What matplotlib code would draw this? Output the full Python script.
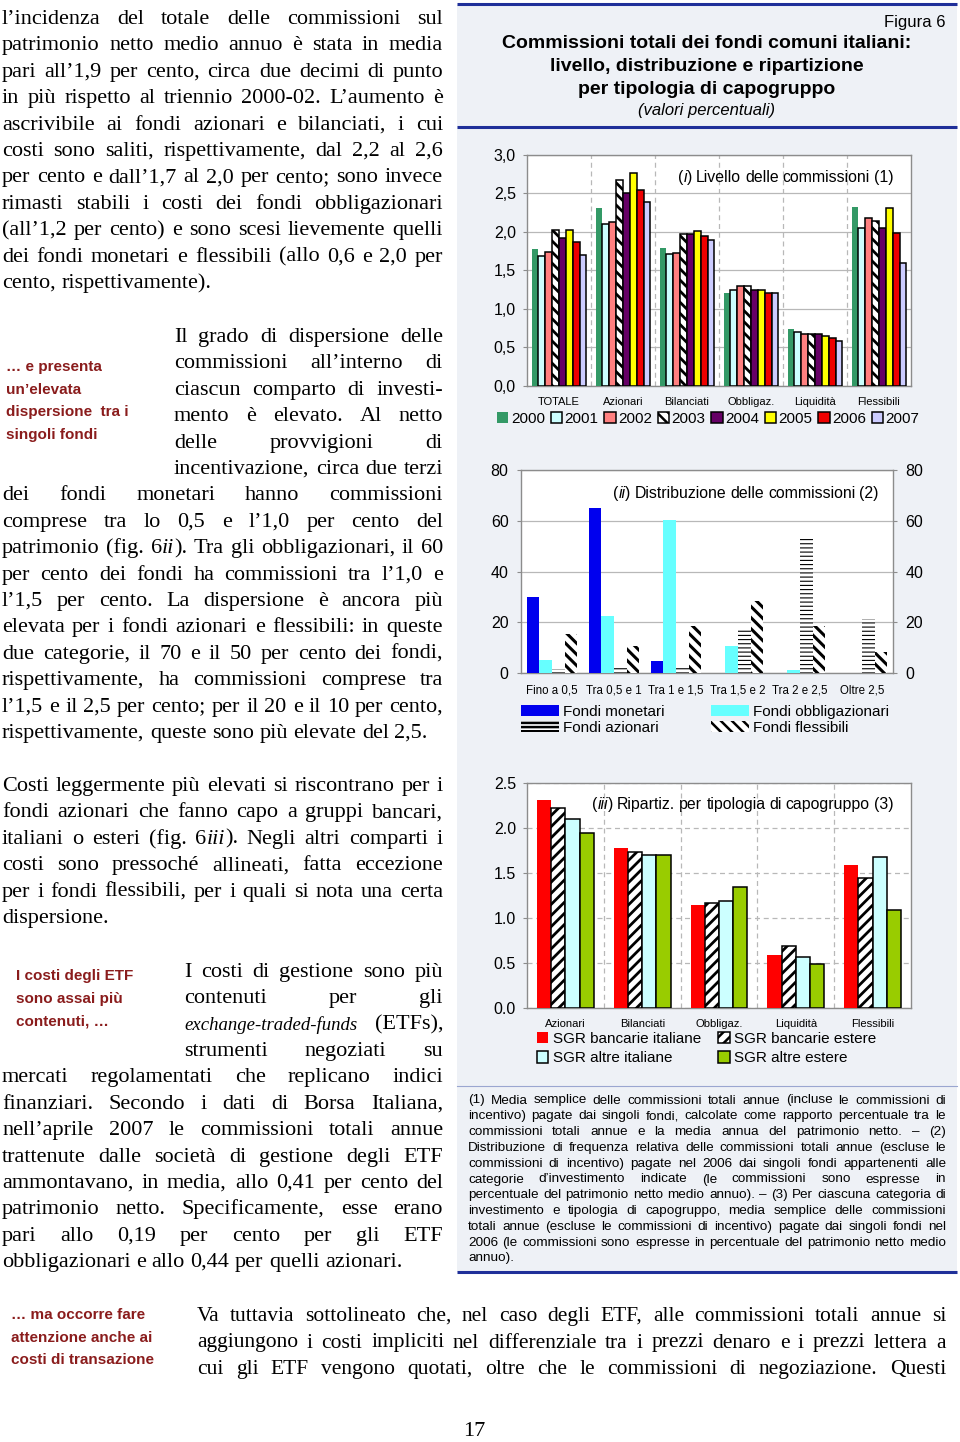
import matplotlib
matplotlib.use('Agg')
import matplotlib.pyplot as plt
import numpy as np
from matplotlib.font_manager import FontProperties, fontManager
from matplotlib.patches import Rectangle

# ---- data -------------------------------------------------------------
years = ['2000', '2001', '2002', '2003', '2004', '2005', '2006', '2007']
cat1 = ['TOTALE', 'Azionari', 'Bilanciati', 'Obbligaz.', 'Liquidità', 'Flessibili']
v2000 = [1.78, 2.31, 1.79, 1.20, 0.74, 2.32]
v2001 = [1.69, 2.10, 1.71, 1.24, 0.69, 2.05]
v2002 = [1.74, 2.13, 1.73, 1.29, 0.67, 2.18]
v2003 = [2.02, 2.67, 1.97, 1.30, 0.67, 2.14]
v2004 = [1.92, 2.51, 1.97, 1.24, 0.67, 2.05]
v2005 = [2.02, 2.76, 2.01, 1.24, 0.64, 2.31]
v2006 = [1.87, 2.54, 1.94, 1.21, 0.62, 1.98]
v2007 = [1.70, 2.39, 1.89, 1.20, 0.58, 1.59]
ticks1 = [0, 0.5, 1.0, 1.5, 2.0, 2.5, 3.0]
ticklabels1 = ['0,0', '0,5', '1,0', '1,5', '2,0', '2,5', '3,0']

bins2 = ['Fino a 0,5', 'Tra 0,5 e 1', 'Tra 1 e 1,5', 'Tra 1,5 e 2', 'Tra 2 e 2,5', 'Oltre 2,5']
monetari = [29.8, 64.9, 4.9, 0, 0, 0]
obbligazionari = [5.0, 22.3, 60.1, 10.6, 1.2, 0]
azionari = [1.6, 2.4, 2.9, 17.3, 54.0, 21.2]
flessibili = [15.3, 10.5, 18.6, 28.2, 18.6, 8.1]
names2 = ['Fondi monetari', 'Fondi obbligazionari', 'Fondi azionari', 'Fondi flessibili']
ticks2 = [0, 20, 40, 60, 80]

cat3 = ['Azionari', 'Bilanciati', 'Obbligaz.', 'Liquidità', 'Flessibili']
bancarie_italiane = [2.31, 1.78, 1.15, 0.59, 1.59]
bancarie_estere = [2.22, 1.73, 1.17, 0.69, 1.44]
altre_italiane = [2.10, 1.70, 1.19, 0.57, 1.68]
altre_estere = [1.94, 1.70, 1.35, 0.49, 1.09]
names3 = ['SGR bancarie italiane', 'SGR bancarie estere', 'SGR altre italiane', 'SGR altre estere']
ticks3 = [0, 0.5, 1.0, 1.5, 2.0, 2.5]
ticklabels3 = ['0.0', '0.5', '1.0', '1.5', '2.0', '2.5']

# ---- page text ----------------------------------------------------------
para1 = [
    "l’incidenza del totale delle commissioni sul",
    "patrimonio netto medio annuo è stata in media",
    "pari all’1,9 per cento, circa due decimi di punto",
    "in più rispetto al triennio 2000-02. L’aumento è",
    "ascrivibile ai fondi azionari e bilanciati, i cui",
    "costi sono saliti, rispettivamente, dal 2,2 al 2,6",
    "per cento e dall’1,7 al 2,0 per cento; sono invece",
    "rimasti stabili i costi dei fondi obbligazionari",
    "(all’1,2 per cento) e sono scesi lievemente quelli",
    "dei fondi monetari e flessibili (allo 0,6 e 2,0 per",
    "cento, rispettivamente).",
]
para2 = [
    "Il grado di dispersione delle",
    "commissioni all’interno di",
    "ciascun comparto di investi-",
    "mento è elevato. Al netto",
    "delle provvigioni di",
    "incentivazione, circa due terzi",
    "dei fondi monetari hanno commissioni",
    "comprese tra lo 0,5 e l’1,0 per cento del",
    "patrimonio (fig. 6*ii*). Tra gli obbligazionari, il 60",
    "per cento dei fondi ha commissioni tra l’1,0 e",
    "l’1,5 per cento. La dispersione è ancora più",
    "elevata per i fondi azionari e flessibili: in queste",
    "due categorie, il 70 e il 50 per cento dei fondi,",
    "rispettivamente, ha commissioni comprese tra",
    "l’1,5 e il 2,5 per cento; per il 20 e il 10 per cento,",
    "rispettivamente, queste sono più elevate del 2,5.",
]
para3 = [
    "Costi leggermente più elevati si riscontrano per i",
    "fondi azionari che fanno capo a gruppi bancari,",
    "italiani o esteri (fig. 6*iii*). Negli altri comparti i",
    "costi sono pressoché allineati, fatta eccezione",
    "per i fondi flessibili, per i quali si nota una certa",
    "dispersione.",
]
para4 = [
    "I costi di gestione sono più",
    "contenuti per gli",
    "*exchange-traded-funds* (ETFs),",
    "strumenti negoziati su",
    "mercati regolamentati che replicano indici",
    "finanziari. Secondo i dati di Borsa Italiana,",
    "nell’aprile 2007 le commissioni totali annue",
    "trattenute dalle società di gestione degli ETF",
    "ammontavano, in media, allo 0,41 per cento del",
    "patrimonio netto. Specificamente, esse erano",
    "pari allo 0,19 per cento per gli ETF",
    "obbligazionari e allo 0,44 per quelli azionari.",
]
para5 = [
    "Va tuttavia sottolineato che, nel caso degli ETF, alle commissioni totali annue si",
    "aggiungono i costi impliciti nel differenziale tra i prezzi denaro e i prezzi lettera a",
    "cui gli ETF vengono quotati, oltre che le commissioni di negoziazione. Questi",
]
note1 = ["… e presenta", "un’elevata", "dispersione  tra i", "singoli fondi"]
note2 = ["I costi degli ETF", "sono assai più", "contenuti, …"]
note3 = ["… ma occorre fare", "attenzione anche ai", "costi di transazione"]
footnotes = [
    "(1) Media semplice delle commissioni totali annue (incluse le commissioni di",
    "incentivo) pagate dai singoli fondi, calcolate come rapporto percentuale tra le",
    "commissioni totali annue e la media annua del patrimonio netto. – (2)",
    "Distribuzione di frequenza relativa delle commissioni totali annue (escluse le",
    "commissioni di incentivo) pagate nel 2006 dai singoli fondi appartenenti alle",
    "categorie d’investimento indicate (le commissioni sono espresse in",
    "percentuale del patrimonio netto medio annuo). – (3) Per ciascuna categoria di",
    "investimento e tipologia di capogruppo, media semplice delle commissioni",
    "totali annue (escluse le commissioni di incentivo) pagate dai singoli fondi nel",
    "2006 (le commissioni sono espresse in percentuale del patrimonio netto medio",
    "annuo).",
]

# ---- figure ----------------------------------------------------------------
W, H = 960, 1442
plt.rcParams['font.family'] = ['Liberation Sans', 'DejaVu Sans']
plt.rcParams['hatch.linewidth'] = 1.8
fig = plt.figure(figsize=(W / 100, H / 100), dpi=100)
R = fig.canvas.get_renderer()

installed = {f.name for f in fontManager.ttflist}
narrow = 'Liberation Sans Narrow' in installed
note_fp = FontProperties(family='Liberation Sans Narrow' if narrow else 'Liberation Sans',
                         weight='bold', size=12 if narrow else 11)
serif = FontProperties(family='Liberation Serif', size=16)
serif_it = FontProperties(family='Liberation Serif', size=16, style='italic')
serif_it_small = FontProperties(family='Liberation Serif', size=13.5, style='italic')
serif5 = FontProperties(family='Liberation Serif', size=15.5)
sans_fn = FontProperties(family='Liberation Sans', size=9.7)
sans11 = FontProperties(family='Liberation Sans', size=11.4)
sans11_it = FontProperties(family='Liberation Sans', size=11.4, style='italic')

bg = fig.add_axes([0, 0, 1, 1], zorder=0)
bg.set_xlim(0, W)
bg.set_ylim(H, 0)
bg.axis('off')
bg.add_patch(Rectangle((457, 5), 500, 1267, facecolor='#eef1f6', lw=0))
for yy in [4, 127, 1272]:
    bg.plot([457, 957], [yy, yy], color='#1f2f99', lw=2.2, solid_capstyle='butt')
bg.plot([457, 957], [1086, 1086], color='#9aa6d0', lw=0.8)

fg = fig.add_axes([0, 0, 1, 1], zorder=5)
fg.set_xlim(0, W)
fg.set_ylim(H, 0)
fg.axis('off')
fg.patch.set_visible(False)


def draw_line(line, x0, x1, yc, fp, fpi, justify, color='black', dy=6):
    words = line.split()
    items = []
    for w in words:
        parts = w.split('*')
        segs = [(p, fpi if k % 2 else fp) for k, p in enumerate(parts) if p]
        ts, ws = [], []
        for s, f in segs:
            t = fg.text(0, yc + dy, s, fontproperties=f, color=color, ha='left', va='baseline')
            ts.append(t)
            ws.append(t.get_window_extent(renderer=R).width)
        items.append((ts, ws))
    total = sum(sum(ws) for ts, ws in items)
    space = fp.get_size_in_points() * 100 / 72 * 0.25
    gap = (x1 - x0 - total) / (len(items) - 1) if (justify and len(items) > 1) else space
    gap = max(gap, space * 0.6)
    x = x0
    for ts, ws in items:
        for t, w in zip(ts, ws):
            t.set_x(x)
            x += w
        x += gap


def draw_para(lines, y0, step, x0, x1, fp, fpi, indent=None, last_left=True, dy=6):
    for k, line in enumerate(lines):
        xa = x0
        if indent and k < indent[0]:
            xa = indent[1]
        just = not (last_left and k == len(lines) - 1)
        draw_line(line, xa, x1, y0 + k * step, fp, fpi, just, dy=dy)


draw_para(para1, 17, 26.4, 2, 443, serif, serif_it, dy=7)
draw_para(para2, 335, 26.4, 2, 443, serif, serif_it, indent=(6, 174), dy=7)
draw_para(para3, 784, 26.4, 2, 443, serif, serif_it, dy=7)
draw_para(para4, 970, 26.36, 2, 443, serif, serif_it_small, indent=(4, 184), dy=7)
draw_para(para5, 1314, 26.5, 197, 946, serif5, serif5, last_left=False, dy=7)
draw_para(footnotes, 1099, 15.8, 468, 946, sans_fn, sans_fn, dy=4.5)

for lines, x0, y0 in [(note1, 6, 366), (note2, 16, 975), (note3, 11, 1314)]:
    for k, s in enumerate(lines):
        fg.text(x0, y0 + k * 22.5 + 5, s, fontproperties=note_fp, color='#8a1c1c',
                ha='left', va='baseline')

fg.text(474, 1432, '17', fontproperties=serif, ha='center', va='center')

# figure heading
fg.text(945, 22, 'Figura 6', fontsize=12, ha='right', va='center')
for k, s in enumerate(['Commissioni totali dei fondi comuni italiani:',
                       'livello, distribuzione e ripartizione',
                       'per tipologia di capogruppo']):
    fg.text(707, 44 + k * 22.5, s, fontsize=14, weight='bold', ha='center', va='center')
fg.text(707, 111, '(valori percentuali)', fontsize=12, style='italic', ha='center', va='center')

draw_line('(*i*) Livello delle commissioni (1)', 678, 900, 177, sans11, sans11_it, False, dy=5)
draw_line('(*ii*) Distribuzione delle commissioni (2)', 613, 900, 493, sans11, sans11_it, False, dy=5)
draw_line('(*iii*) Ripartiz. per tipologia di capogruppo (3)', 592, 900, 804, sans11, sans11_it, False, dy=5)


def px_axes(l, t, r, b):
    return fig.add_axes([l / W, 1 - b / H, (r - l) / W, (b - t) / H], zorder=2)


def frame(ax):
    for sp in ax.spines.values():
        sp.set_color('#8c8c8c')
        sp.set_linewidth(1.0)
    ax.set_facecolor('white')


def hatch_width(bars, lw):
    for p in bars:
        if hasattr(p, 'set_hatch_linewidth'):
            p.set_hatch_linewidth(lw)


# ---- chart (i) ----------------------------------------------------------------
ax1 = px_axes(527, 155, 911, 385.5)
frame(ax1)
series1 = [v2000, v2001, v2002, v2003, v2004, v2005, v2006, v2007]
styles1 = [dict(fc='#339966', ec='none'), dict(fc='#ccffff', ec='black'),
           dict(fc='#ff8080', ec='black'), dict(fc='white', ec='black', hatch='\\\\\\'),
           dict(fc='#660066', ec='black'), dict(fc='#ffff00', ec='black'),
           dict(fc='#ee0000', ec='black'), dict(fc='#ccccff', ec='black')]
x1 = np.arange(len(cat1))
bw1 = 0.107
bars1 = []
for i, (vals, st) in enumerate(zip(series1, styles1)):
    b = ax1.bar(x1 + (i - 3.5) * bw1, vals, bw1, label=years[i], lw=1.1, zorder=3, **st)
    bars1.append(b)
hatch_width(bars1[3], 2.0)
ax1.set_xlim(-0.5, len(cat1) - 0.5)
ax1.set_ylim(0, 3.0)
ax1.set_yticks(ticks1, ticklabels1)
ax1.set_xticks(x1, cat1)
ax1.yaxis.grid(True, color='#b8b8b8', lw=0.9)
ax1.set_axisbelow(True)
for s in x1[:-1] + 0.5:
    ax1.axvline(s, color='#b8b8b8', lw=0.9, ls=(0, (4, 3)), zorder=1)
ax1.tick_params(axis='x', length=0, pad=8, labelsize=8)
ax1.tick_params(axis='y', length=3, pad=5, labelsize=11.5, color='#8c8c8c')
ax1.legend(handles=bars1, labels=years, loc='upper left', bbox_to_anchor=(497 / W, 1 - 412 / H),
           bbox_transform=fig.transFigure, ncol=8, frameon=False, fontsize=11,
           handlelength=0.75, handleheight=0.75, handletextpad=0.15, columnspacing=0.38,
           borderpad=0, borderaxespad=0)

# ---- chart (ii) ---------------------------------------------------------------
ax2 = px_axes(521, 470, 893, 673)
frame(ax2)
series2 = [monetari, obbligazionari, azionari, flessibili]
styles2 = [dict(fc='#0000ee', ec='none'), dict(fc='#66ffff', ec='none'),
           dict(fc='white', ec='black', hatch='----'), dict(fc='white', ec='black', hatch='\\\\\\')]
x2 = np.arange(len(bins2))
bw2 = 0.205
bars2 = []
for i, (vals, st) in enumerate(zip(series2, styles2)):
    b = ax2.bar(x2 + (i - 1.5) * bw2, vals, bw2, lw=0, zorder=3, **st)
    bars2.append(b)
hatch_width(bars2[2], 0.8)
hatch_width(bars2[3], 2.2)
ax2.set_xlim(-0.5, len(bins2) - 0.5)
ax2.set_ylim(0, 80)
ax2.set_yticks(ticks2)
ax2.set_xticks(x2, bins2)
ax2.yaxis.grid(True, color='#b8b8b8', lw=0.9)
ax2.set_axisbelow(True)
ax2.tick_params(axis='x', length=0, pad=8, labelsize=8.3)
ax2.tick_params(axis='y', length=3, pad=6, labelsize=11.5, color='#8c8c8c',
                right=True, labelright=True)
ax2.legend(handles=[bars2[0], bars2[2], bars2[1], bars2[3]],
           labels=[names2[0], names2[2], names2[1], names2[3]],
           loc='upper left', bbox_to_anchor=(521 / W, 1 - 705 / H),
           bbox_transform=fig.transFigure, ncol=2, frameon=False, fontsize=11,
           handlelength=2.5, handleheight=0.7, handletextpad=0.26, columnspacing=3.0,
           labelspacing=0.12, borderpad=0, borderaxespad=0)

# ---- chart (iii) --------------------------------------------------------------
ax3 = px_axes(527, 783, 911, 1008)
frame(ax3)
series3 = [bancarie_italiane, bancarie_estere, altre_italiane, altre_estere]
styles3 = [dict(fc='#ff0000', ec='none'), dict(fc='white', ec='black', hatch='///'),
           dict(fc='#ccffff', ec='black'), dict(fc='#99cc00', ec='black')]
x3 = np.arange(len(cat3))
bw3 = 0.185
bars3 = []
for i, (vals, st) in enumerate(zip(series3, styles3)):
    b = ax3.bar(x3 + (i - 1.5) * bw3, vals, bw3, lw=1.1, zorder=3, **st)
    bars3.append(b)
hatch_width(bars3[1], 2.0)
ax3.set_xlim(-0.5, len(cat3) - 0.5)
ax3.set_ylim(0, 2.5)
ax3.set_yticks(ticks3, ticklabels3)
ax3.set_xticks(x3, cat3)
ax3.yaxis.grid(True, color='#b8b8b8', lw=0.9, ls=(0, (4, 3)))
ax3.set_axisbelow(True)
for s in x3[:-1] + 0.5:
    ax3.axvline(s, color='#b8b8b8', lw=0.9, ls=(0, (4, 3)), zorder=1)
ax3.tick_params(axis='x', length=0, pad=8, labelsize=8.1)
ax3.tick_params(axis='y', length=3, pad=5, labelsize=11.5, color='#8c8c8c')
ax3.legend(handles=[bars3[0], bars3[2], bars3[1], bars3[3]],
           labels=[names3[0], names3[2], names3[1], names3[3]],
           loc='upper left', bbox_to_anchor=(537 / W, 1 - 1032 / H),
           bbox_transform=fig.transFigure, ncol=2, frameon=False, fontsize=11,
           handlelength=0.75, handleheight=0.75, handletextpad=0.3, columnspacing=1.1,
           labelspacing=0.35, borderpad=0, borderaxespad=0)

fig.savefig('out.png', dpi=100, facecolor='white')
